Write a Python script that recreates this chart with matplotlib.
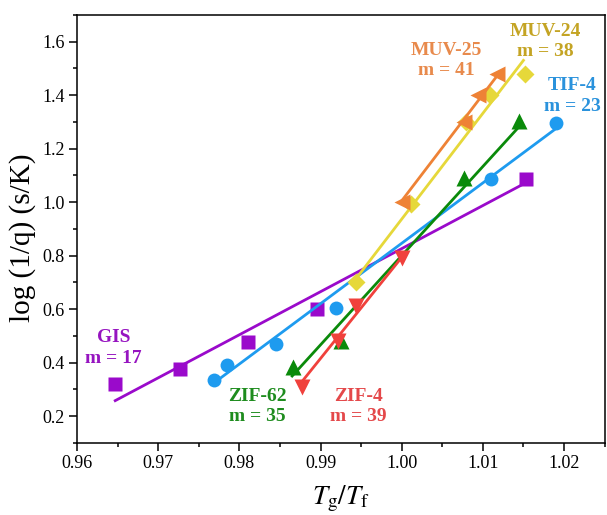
import matplotlib
matplotlib.use('Agg')
import matplotlib.pyplot as plt
from matplotlib.ticker import MultipleLocator

plt.rcParams['font.family'] = ['Liberation Serif', 'DejaVu Serif']
plt.rcParams['mathtext.fontset'] = 'stix'

# measured points (Tg/Tf, log(1/q))
gis_x = [0.9647, 0.9727, 0.9810, 0.9896, 1.0153]
gis_y = [0.320, 0.378, 0.478, 0.602, 1.085]
tif_x = [0.9769, 0.9785, 0.9845, 0.9919, 1.0110, 1.0190]
tif_y = [0.335, 0.390, 0.470, 0.605, 1.085, 1.295]
zif62_x = [0.9866, 0.9925, 1.0077, 1.0144]
zif62_y = [0.385, 0.480, 1.090, 1.305]
zif4_x = [0.9877, 0.9922, 0.9944, 1.0000]
zif4_y = [0.310, 0.480, 0.610, 0.790]
muv25_x = [1.0000, 1.0077, 1.0094, 1.0117]
muv25_y = [1.000, 1.300, 1.400, 1.480]
muv24_x = [0.9944, 1.0011, 1.0079, 1.0109, 1.0152]
muv24_y = [0.700, 0.995, 1.300, 1.400, 1.478]

# fitted lines (end points)
gis_fx, gis_fy = [0.9647, 1.0152], [0.258, 1.071]
tif_fx, tif_fy = [0.9769, 1.0190], [0.325, 1.275]
zif62_fx, zif62_fy = [0.9865, 1.0144], [0.350, 1.280]
zif4_fx, zif4_fy = [0.9876, 1.0003], [0.325, 0.805]
muv25_fx, muv25_fy = [1.0000, 1.0117], [1.005, 1.470]
muv24_fx, muv24_fy = [0.9944, 1.0150], [0.715, 1.530]

fig = plt.figure(figsize=(6.07, 5.15), dpi=100)
ax = fig.add_axes([0.127, 0.140, 0.869, 0.831])

series = [
    (gis_x, gis_y, gis_fx, gis_fy, '#9A0ACB', 's', 9.5),
    (tif_x, tif_y, tif_fx, tif_fy, '#1E9BEF', 'o', 10),
    (zif62_x, zif62_y, zif62_fx, zif62_fy, '#0A8A0A', '^', 11),
    (zif4_x, zif4_y, zif4_fx, zif4_fy, '#F0413C', 'v', 11),
    (muv24_x, muv24_y, muv24_fx, muv24_fy, '#E6D83A', 'D', 9),
    (muv25_x, muv25_y, muv25_fx, muv25_fy, '#EE8236', '<', 11),
]
for x, y, fx, fy, c, m, ms in series:
    ax.plot(fx, fy, color=c, lw=2)
    ax.plot(x, y, ls='none', marker=m, ms=ms, color=c, mec='none')

labels = [
    (0.9645, 0.455, 'GIS\nm = 17', '#9614C0'),
    (0.9822, 0.235, 'ZIF-62\nm = 35', '#1E8C1E'),
    (0.9947, 0.235, 'ZIF-4\nm = 39', '#E4484A'),
    (1.0055, 1.530, 'MUV-25\nm = 41', '#E88A4C'),
    (1.0177, 1.600, 'MUV-24\nm = 38', '#C4A424'),
    (1.0210, 1.397, 'TIF-4\nm = 23', '#2A92DC'),
]
for lx, ly, txt, c in labels:
    ax.text(lx, ly, txt, color=c, fontsize=14, fontweight='bold',
            ha='center', va='center', linespacing=1.25)

ax.set_xlim(0.96, 1.025)
ax.set_ylim(0.1, 1.7)
ax.xaxis.set_major_locator(MultipleLocator(0.01))
ax.xaxis.set_minor_locator(MultipleLocator(0.005))
ax.yaxis.set_major_locator(MultipleLocator(0.2))
ax.yaxis.set_minor_locator(MultipleLocator(0.1))
ax.xaxis.set_major_formatter(plt.FormatStrFormatter('%.2f'))
ax.yaxis.set_major_formatter(plt.FormatStrFormatter('%.1f'))
ax.tick_params(which='both', direction='out', labelsize=13, width=1.1)
ax.tick_params(which='major', length=5.5)
ax.tick_params(which='minor', length=3)
for s in ax.spines.values():
    s.set_linewidth(1.1)

ax.set_xlabel(r'$T_{\rm g}/T_{\rm f}$', fontsize=19.5)
ax.set_ylabel('log (1/q) (s/K)', fontsize=21)
ax.xaxis.set_label_coords(0.5, -0.096)
ax.yaxis.set_label_coords(-0.078, 0.48)

fig.savefig('out.png', dpi=100)
